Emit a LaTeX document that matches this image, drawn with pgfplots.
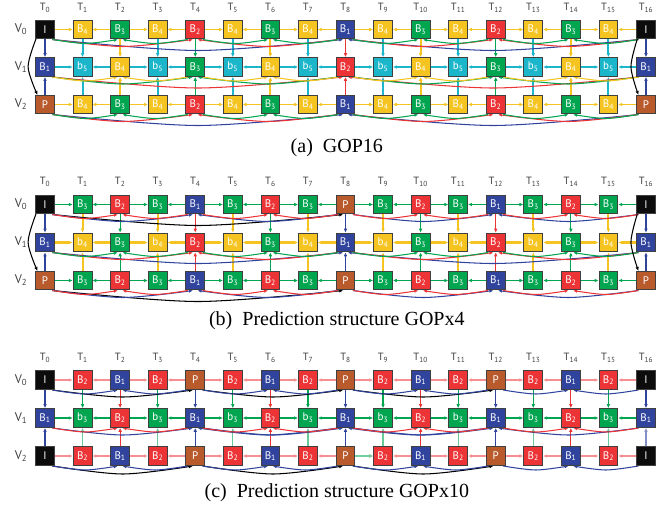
\documentclass[border=0pt]{standalone}
\usepackage{pgfplots}
\pgfplotsset{compat=1.18}
\usetikzlibrary{arrows.meta}
\usepackage{fontspec}
\setmainfont{Liberation Serif}
\newfontfamily\lblfont{PT Sans}
\definecolor{cK}{RGB}{12,12,12}
\definecolor{cP}{RGB}{185,90,45}
\definecolor{cU}{RGB}{48,68,158}
\definecolor{cR}{RGB}{236,52,55}
\definecolor{cG}{RGB}{0,165,80}
\definecolor{cY}{RGB}{245,196,32}
\definecolor{cC}{RGB}{28,182,202}
\def\mk#1#2\relax{#1\textsubscript{#2}}
\newcommand\boxfont{\lblfont\fontsize{11}{12}\selectfont}
\pgfplotsset{
  tip/.style={-{Latex[length=4pt,width=3.6pt]}},
  edg/.style={line width=1.2pt, tip, shorten >=9.8pt, shorten <=9.8pt},
  arcst/.style={smooth, line width=1.05pt, -{Latex[length=4pt,width=3.4pt]}},
  bxs/.style n args={2}{only marks, mark=square*, mark size=9.4pt,
     mark options={draw=black!75, fill=#1, line width=0.9pt},
     nodes near coords={#2},
     every node near coord/.append style={anchor=center, text=white, font=\boxfont}},
}
% horizontal arrow: src tgt y style
\newcommand\ha[4]{\addplot[edg,#4] coordinates {(#1,#3) (#2,#3)};}
% vertical arrow: x ysrc ytgt style
\newcommand\va[4]{\addplot[edg,#4] coordinates {(#1,#2) (#1,#3)};}
\newcommand\vcol[6]{\va{#1}{#2}{#3}{#5}\va{#1}{#4}{#3}{#6}}
\newcommand\hrow[2]{%
 \ha{0}{1}{#1}{#2}\ha{2}{1}{#1}{#2}\ha{2}{3}{#1}{#2}\ha{4}{3}{#1}{#2}%
 \ha{4}{5}{#1}{#2}\ha{6}{5}{#1}{#2}\ha{6}{7}{#1}{#2}\ha{8}{7}{#1}{#2}%
 \ha{8}{9}{#1}{#2}\ha{10}{9}{#1}{#2}\ha{10}{11}{#1}{#2}\ha{12}{11}{#1}{#2}%
 \ha{12}{13}{#1}{#2}\ha{14}{13}{#1}{#2}\ha{14}{15}{#1}{#2}\ha{16}{15}{#1}{#2}}
% arc: src tgt ybottom depth style
\newcommand\arc[5]{%
  \pgfmathsetmacro\arcS{(#2>#1)*2-1}%
  \pgfmathsetmacro\arcA{#1+0.2*\arcS}%
  \pgfmathsetmacro\arcB{#2-0.06*\arcS}%
  \pgfmathsetmacro\arcM{(\arcA+\arcB)/2}%
  \pgfmathsetmacro\arcY{#3+#4}%
  \edef\arctmp{\noexpand\addplot[arcst,#5] coordinates {(\arcA,#3) (\arcM,\arcY) (\arcB,#3)};}%
  \arctmp}
\newcommand\spantwo[3]{\arc{0}{2}{#1}{#2}{#3}\arc{4}{2}{#1}{#2}{#3}\arc{4}{6}{#1}{#2}{#3}\arc{8}{6}{#1}{#2}{#3}%
  \arc{8}{10}{#1}{#2}{#3}\arc{12}{10}{#1}{#2}{#3}\arc{12}{14}{#1}{#2}{#3}\arc{16}{14}{#1}{#2}{#3}}
\newcommand\spanfour[3]{\arc{0}{4}{#1}{#2}{#3}\arc{8}{4}{#1}{#2}{#3}\arc{8}{12}{#1}{#2}{#3}\arc{16}{12}{#1}{#2}{#3}}
\newcommand\spaneight[3]{\arc{0}{8}{#1}{#2}{#3}\arc{16}{8}{#1}{#2}{#3}}
\begin{document}
\begin{tikzpicture}
\begin{axis}[
  scale only axis, width=672pt, height=512pt,
  xmin=-1.1981, xmax=16.6933, ymin=0, ymax=512, y dir=reverse,
  hide axis, clip=false,
]
\addplot[draw=none] coordinates {(-1.1981,0) (16.6933,512)};

% ================= Panel A =================
\vcol{0}{29.5}{67}{104.5}{cU}{cU}
\vcol{1}{29.5}{67}{104.5}{cC,line width=2pt}{cC,line width=2pt}
\vcol{2}{29.5}{67}{104.5}{cY,line width=1.8pt}{cY,line width=1.8pt}
\vcol{3}{29.5}{67}{104.5}{cC,line width=2pt}{cC,line width=2pt}
\vcol{4}{29.5}{67}{104.5}{cG}{cG}
\vcol{5}{29.5}{67}{104.5}{cC,line width=2pt}{cC,line width=2pt}
\vcol{6}{29.5}{67}{104.5}{cY,line width=1.8pt}{cY,line width=1.8pt}
\vcol{7}{29.5}{67}{104.5}{cC,line width=2pt}{cC,line width=2pt}
\vcol{8}{29.5}{67}{104.5}{cR}{cR}
\vcol{9}{29.5}{67}{104.5}{cC,line width=2pt}{cC,line width=2pt}
\vcol{10}{29.5}{67}{104.5}{cY,line width=1.8pt}{cY,line width=1.8pt}
\vcol{11}{29.5}{67}{104.5}{cC,line width=2pt}{cC,line width=2pt}
\vcol{12}{29.5}{67}{104.5}{cG}{cG}
\vcol{13}{29.5}{67}{104.5}{cC,line width=2pt}{cC,line width=2pt}
\vcol{14}{29.5}{67}{104.5}{cY,line width=1.8pt}{cY,line width=1.8pt}
\vcol{15}{29.5}{67}{104.5}{cC,line width=2pt}{cC,line width=2pt}
\vcol{16}{29.5}{67}{104.5}{cU}{cU}
\spaneight{39.5}{11}{cU}\spanfour{39.5}{7}{cR}\spantwo{39.5}{4}{cG}
\spaneight{77}{11}{cR}\spanfour{77}{7}{cG}\spantwo{77}{4}{cY}
\spaneight{114.5}{11}{cU}\spanfour{114.5}{7}{cR}\spantwo{114.5}{4}{cG}
\hrow{29.5}{cY}
\hrow{67}{cC,line width=2.2pt}
\hrow{104.5}{cY}
\addplot[arcst, black] coordinates {(-0.24,39) (-0.45,67) (-0.2,95)};
\addplot[arcst, black] coordinates {(15.77,39) (15.6,67) (15.8,95)};

% ================= Panel B =================
\vcol{0}{204.5}{242.5}{280.5}{cU}{cU}
\vcol{1}{204.5}{242.5}{280.5}{cY,line width=2pt}{cY,line width=2pt}
\vcol{2}{204.5}{242.5}{280.5}{cG}{cG}
\vcol{3}{204.5}{242.5}{280.5}{cY,line width=2pt}{cY,line width=2pt}
\vcol{4}{204.5}{242.5}{280.5}{cR}{cR}
\vcol{5}{204.5}{242.5}{280.5}{cY,line width=2pt}{cY,line width=2pt}
\vcol{6}{204.5}{242.5}{280.5}{cG}{cG}
\vcol{7}{204.5}{242.5}{280.5}{cY,line width=2pt}{cY,line width=2pt}
\vcol{8}{204.5}{242.5}{280.5}{cU}{cU}
\vcol{9}{204.5}{242.5}{280.5}{cY,line width=2pt}{cY,line width=2pt}
\vcol{10}{204.5}{242.5}{280.5}{cG}{cG}
\vcol{11}{204.5}{242.5}{280.5}{cY,line width=2pt}{cY,line width=2pt}
\vcol{12}{204.5}{242.5}{280.5}{cR}{cR}
\vcol{13}{204.5}{242.5}{280.5}{cY,line width=2pt}{cY,line width=2pt}
\vcol{14}{204.5}{242.5}{280.5}{cG}{cG}
\vcol{15}{204.5}{242.5}{280.5}{cY,line width=2pt}{cY,line width=2pt}
\vcol{16}{204.5}{242.5}{280.5}{cU}{cU}
\arc{0}{8}{214.5}{11}{black}\spanfour{214.5}{7}{cU}\spantwo{214.5}{4}{cR}
\spaneight{252.5}{11}{cU}\spanfour{252.5}{7}{cR}\spantwo{252.5}{4}{cG}
\arc{0}{8}{290.5}{11}{black}\spanfour{290.5}{7}{cU}\spantwo{290.5}{4}{cR}
\hrow{204.5}{cG}
\hrow{242.5}{cY,line width=2.2pt}
\hrow{280.5}{cG}
\addplot[arcst, black] coordinates {(-0.24,214) (-0.45,242.5) (-0.2,271)};
\addplot[arcst, black] coordinates {(15.77,214) (15.6,242.5) (15.8,271)};

% ================= Panel C =================
\vcol{0}{380}{418}{456}{cU}{cU}
\vcol{1}{380}{418}{456}{cG}{cG!60}
\vcol{2}{380}{418}{456}{cR}{cR}
\vcol{3}{380}{418}{456}{cG}{cG!60}
\vcol{4}{380}{418}{456}{cU}{cU}
\vcol{5}{380}{418}{456}{cG}{cG!60}
\vcol{6}{380}{418}{456}{cR}{cR}
\vcol{7}{380}{418}{456}{cG}{cG!60}
\vcol{8}{380}{418}{456}{cU}{cU}
\vcol{9}{380}{418}{456}{cG}{cG!60}
\vcol{10}{380}{418}{456}{cR}{cR}
\vcol{11}{380}{418}{456}{cG}{cG!60}
\vcol{12}{380}{418}{456}{cU}{cU}
\vcol{13}{380}{418}{456}{cG}{cG!60}
\vcol{14}{380}{418}{456}{cR}{cR}
\vcol{15}{380}{418}{456}{cG}{cG!60}
\vcol{16}{380}{418}{456}{cU}{cU!60}
\arc{0}{4}{390}{7}{black}\arc{4}{8}{390}{7}{black}\arc{8}{12}{390}{7}{black}\spantwo{390}{4}{cU}
\spanfour{428}{7}{cU}\arc{4}{8}{428}{7}{cU}\arc{12}{8}{428}{7}{cU}\spantwo{428}{4}{cR}
\arc{0}{4}{466}{8}{black}\arc{4}{8}{466}{8}{black}\arc{8}{12}{466}{8}{black}\spantwo{466}{4}{cU}
\hrow{380}{cR!55}
\hrow{418}{cG,line width=1.5pt}
\hrow{456}{cR!55}
\ha{8}{9}{456}{cG!55}

% ================= Boxes (one series per frame type) =================
\addplot[bxs={cK}{I}] coordinates {
 (0,29.5) (16,29.5) (0,204.5) (16,204.5) (0,380) (16,380) (0,456) (16,456)};
\addplot[bxs={cP}{P}] coordinates {
 (0,104.5) (16,104.5) (8,204.5) (0,280.5) (8,280.5) (16,280.5)
 (4,380) (8,380) (12,380) (4,456) (8,456) (12,456)};
\addplot[bxs={cU}{B\textsubscript{1}}] coordinates {
 (8,29.5) (0,67) (16,67) (8,104.5)
 (4,204.5) (12,204.5) (0,242.5) (8,242.5) (16,242.5) (4,280.5) (12,280.5)
 (2,380) (6,380) (10,380) (14,380) (0,418) (4,418) (8,418) (12,418) (16,418)
 (2,456) (6,456) (10,456) (14,456)};
\addplot[bxs={cR}{B\textsubscript{2}}] coordinates {
 (4,29.5) (12,29.5) (8,67) (4,104.5) (12,104.5)
 (2,204.5) (6,204.5) (10,204.5) (14,204.5) (4,242.5) (12,242.5)
 (2,280.5) (6,280.5) (10,280.5) (14,280.5)
 (1,380) (3,380) (5,380) (7,380) (9,380) (11,380) (13,380) (15,380)
 (2,418) (6,418) (10,418) (14,418)
 (1,456) (3,456) (5,456) (7,456) (9,456) (11,456) (13,456) (15,456)};
\addplot[bxs={cG}{B\textsubscript{3}}] coordinates {
 (2,29.5) (6,29.5) (10,29.5) (14,29.5) (4,67) (12,67)
 (2,104.5) (6,104.5) (10,104.5) (14,104.5)
 (1,204.5) (3,204.5) (5,204.5) (7,204.5) (9,204.5) (11,204.5) (13,204.5) (15,204.5)
 (2,242.5) (6,242.5) (10,242.5) (14,242.5)
 (1,280.5) (3,280.5) (5,280.5) (7,280.5) (9,280.5) (11,280.5) (13,280.5) (15,280.5)};
\addplot[bxs={cY}{B\textsubscript{4}}] coordinates {
 (1,29.5) (3,29.5) (5,29.5) (7,29.5) (9,29.5) (11,29.5) (13,29.5) (15,29.5)
 (2,67) (6,67) (10,67) (14,67)
 (1,104.5) (3,104.5) (5,104.5) (7,104.5) (9,104.5) (11,104.5) (13,104.5) (15,104.5)};
\addplot[bxs={cC}{b\textsubscript{5}}] coordinates {
 (1,67) (3,67) (5,67) (7,67) (9,67) (11,67) (13,67) (15,67)};
\addplot[bxs={cY}{b\textsubscript{4}}] coordinates {
 (1,242.5) (3,242.5) (5,242.5) (7,242.5) (9,242.5) (11,242.5) (13,242.5) (15,242.5)};
\addplot[bxs={cG}{b\textsubscript{3}}] coordinates {
 (1,418) (3,418) (5,418) (7,418) (9,418) (11,418) (13,418) (15,418)};

% ================= T and V labels =================
\addplot[draw=none, point meta=explicit symbolic,
  nodes near coords={\edef\tmp{\pgfplotspointmeta}\expandafter\mk\tmp\relax},
  every node near coord/.append style={anchor=center, text=black!75, font=\lblfont\fontsize{10.5}{12}\selectfont},
] coordinates {
 (0,8)[T0] (1,8)[T1] (2,8)[T2] (3,8)[T3] (4,8)[T4] (5,8)[T5] (6,8)[T6] (7,8)[T7] (8,8)[T8]
 (9,8)[T9] (10,8)[T10] (11,8)[T11] (12,8)[T12] (13,8)[T13] (14,8)[T14] (15,8)[T15] (16,8)[T16]
 (0,182)[T0] (1,182)[T1] (2,182)[T2] (3,182)[T3] (4,182)[T4] (5,182)[T5] (6,182)[T6] (7,182)[T7] (8,182)[T8]
 (9,182)[T9] (10,182)[T10] (11,182)[T11] (12,182)[T12] (13,182)[T13] (14,182)[T14] (15,182)[T15] (16,182)[T16]
 (0,358)[T0] (1,358)[T1] (2,358)[T2] (3,358)[T3] (4,358)[T4] (5,358)[T5] (6,358)[T6] (7,358)[T7] (8,358)[T8]
 (9,358)[T9] (10,358)[T10] (11,358)[T11] (12,358)[T12] (13,358)[T13] (14,358)[T14] (15,358)[T15] (16,358)[T16]
};
\addplot[draw=none, point meta=explicit symbolic,
  nodes near coords={\edef\tmp{\pgfplotspointmeta}\expandafter\mk\tmp\relax},
  every node near coord/.append style={anchor=center, text=black!75, font=\lblfont\fontsize{12.5}{14}\selectfont},
] coordinates {
 (-0.64,29.5)[V0] (-0.64,67)[V1] (-0.64,104.5)[V2]
 (-0.64,204.5)[V0] (-0.64,242.5)[V1] (-0.64,280.5)[V2]
 (-0.64,380)[V0] (-0.64,418)[V1] (-0.64,456)[V2]
};
% ================= Captions =================
\addplot[draw=none, point meta=explicit symbolic, nodes near coords,
  every node near coord/.append style={anchor=center, text=black, font=\fontsize{20}{24}\selectfont},
] coordinates {
 (7.77,148)[(a)\ \ GOP16]
 (7.77,321)[(b)\ \ Prediction structure GOPx4]
 (7.77,493)[(c)\ \ Prediction structure GOPx10]
};
\end{axis}
\end{tikzpicture}
\end{document}
